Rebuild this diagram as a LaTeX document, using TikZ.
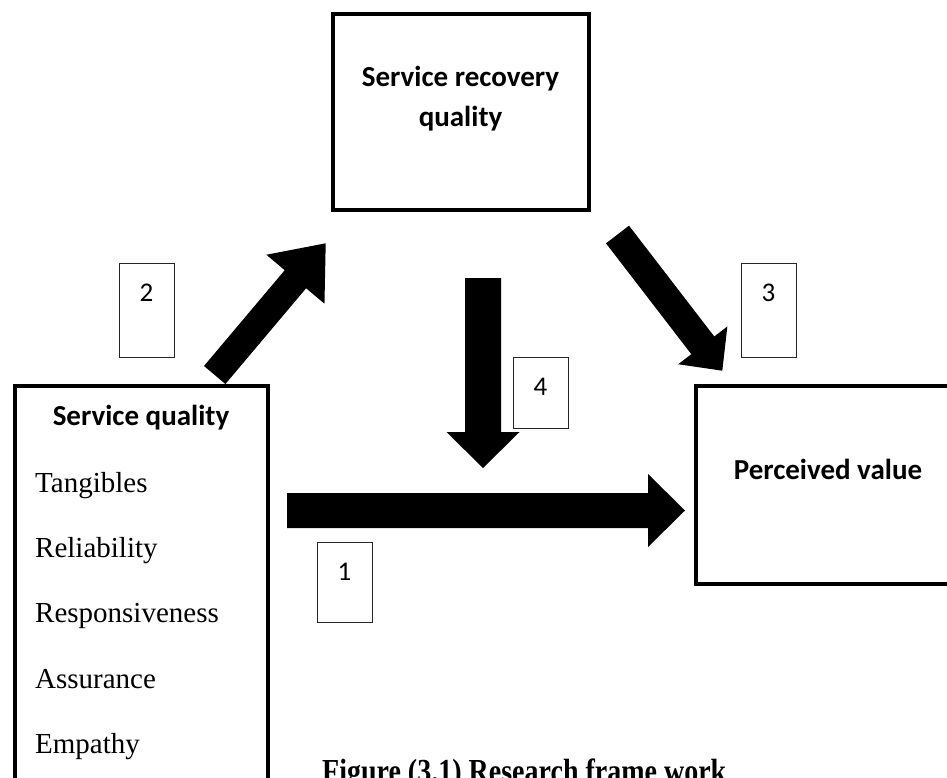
\documentclass[tikz,border=0pt]{standalone}
\usepackage{fontspec}
\usepackage{graphicx}
\setmainfont{Liberation Serif}
\newfontfamily\calfont{Carlito}
\usetikzlibrary{calc}
\tikzset{
  mainbox/.style={draw, line width=4pt, rectangle, inner sep=0pt},
  numbox/.style={draw=black!85, line width=0.9pt, rectangle, inner sep=0pt, minimum width=55pt},
  numtext/.style={font=\calfont\fontsize{27}{32}\selectfont, inner sep=0pt},
  headtext/.style={font=\calfont\bfseries\fontsize{29}{40}\selectfont, anchor=base, inner sep=0pt},
  itemtext/.style={font=\fontsize{29}{34}\selectfont, anchor=base west, inner sep=0pt},
  captext/.style={font=\bfseries\fontsize{28}{34}\selectfont, anchor=base west, inner sep=0pt},
}
% #1 start, #2 tip, #3 shaft half width, #4 head half width, #5 head length
\newcommand\blockarrow[5]{%
  \coordinate (ba-h) at ($(#2)!#5!(#1)$);
  \fill ($(#1)!#3!90:(#2)$) -- ($(ba-h)!#3!-90:(#1)$) -- ($(ba-h)!#4!-90:(#1)$)
    -- (#2) -- ($(ba-h)!#4!90:(#1)$) -- ($(ba-h)!#3!90:(#1)$)
    -- ($(#1)!#3!-90:(#2)$) -- cycle;}
\begin{document}
\begin{tikzpicture}[x=1pt,y=-1pt]
\useasboundingbox (0,0) rectangle (947,778);

% main boxes
\node[mainbox, minimum width=256pt, minimum height=196pt] (rec) at (461,112) {};
\node[mainbox, minimum width=253.5pt, minimum height=414.5pt] (sq) at (141.25,592.75) {};
\node[mainbox, minimum width=264pt, minimum height=198pt] (pv) at (828,485) {};

% box texts
\node[headtext] (rec1) at (460.5,87) {Service recovery};
\node[headtext] (rec2) at (460.5,127) {quality};
\node[headtext] (sqt) at (141,425) {Service quality};
\node[headtext] (pvt) at (828,479) {Perceived value};
\node[itemtext] (i1) at (35,492) {Tangibles};
\node[itemtext] (i2) at (35,557) {Reliability};
\node[itemtext] (i3) at (35,622) {Responsiveness};
\node[itemtext] (i4) at (35,688) {Assurance};
\node[itemtext] (i5) at (35,753) {Empathy};

% number boxes
\node[numbox, minimum height=94pt] (n2) at (146.5,310) {};
\node[numtext] (n2t) at (146.5,292.5) {2};
\node[numbox, minimum height=94pt] (n3) at (768.5,310) {};
\node[numtext] (n3t) at (768.5,293) {3};
\node[numbox, minimum height=71pt] (n4) at (540.5,392.5) {};
\node[numtext] (n4t) at (540.5,386.5) {4};
\node[numbox, minimum height=80pt] (n1) at (344.5,582) {};
\node[numtext] (n1t) at (344.5,572) {1};

% block arrows
\coordinate (a1s) at (287,510.5);
\coordinate (a1e) at (685,510.5);
\coordinate (a2s) at (214.7,375);
\coordinate (a2e) at (325.7,243.3);
\coordinate (a3s) at (617.5,234.5);
\coordinate (a3e) at (722.3,370.7);
\coordinate (a4s) at (483,278);
\coordinate (a4e) at (483,468);
\blockarrow{a1s}{a1e}{17.5pt}{36.5pt}{37pt}
\blockarrow{a2s}{a2e}{14pt}{38pt}{47pt}
\blockarrow{a3s}{a3e}{14.5pt}{31pt}{32pt}
\blockarrow{a4s}{a4e}{18pt}{36.5pt}{36pt}

% caption
\node[captext] (cap) at (322,782) {\scalebox{1}[1.2]{Figure (3.1) Research frame work}};
\end{tikzpicture}
\end{document}
